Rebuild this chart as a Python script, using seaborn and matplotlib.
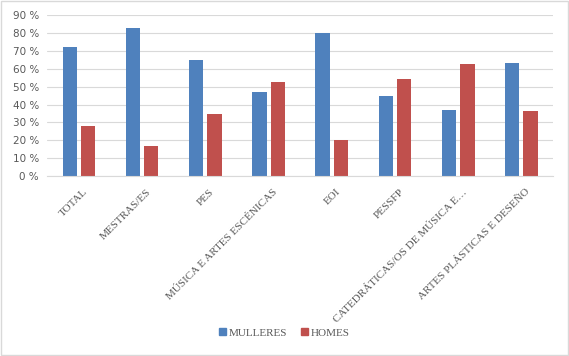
import numpy as np
import pandas as pd
import seaborn as sns
from matplotlib import pyplot as plt
from matplotlib.patches import Rectangle
from matplotlib.ticker import FuncFormatter
import matplotlib.transforms as mtransforms

# values (share of staff, 0-1)
categories = [
    "TOTAL",
    "MESTRAS/ES",
    "PES",
    "MÚSICA E ARTES ESCÉNICAS",
    "EOI",
    "PESSFP",
    "CATEDRÁTICAS/OS DE MÚSICA E…",
    "ARTES PLÁSTICAS E DESEÑO",
]
mulleres = [0.72, 0.83, 0.65, 0.47, 0.80, 0.45, 0.37, 0.635]
homes = [0.28, 0.17, 0.35, 0.525, 0.20, 0.545, 0.63, 0.365]
series = ["MULLERES", "HOMES"]
colors = ["#4F81BD", "#C0504D"]

df = pd.DataFrame({
    "cat": categories * 2,
    "val": mulleres + homes,
    "sex": [series[0]] * len(categories) + [series[1]] * len(categories),
})

sns.set_style("white")
plt.rcParams["font.family"] = ["DejaVu Sans"]

fig = plt.figure(figsize=(5.69, 3.56), dpi=100)
ax = fig.add_axes([0.083, 0.5056, 0.889, 0.4514])

sns.barplot(
    data=df, x="cat", y="val", hue="sex",
    palette=colors, width=0.58, gap=0.22,
    saturation=1, linewidth=0, ax=ax, legend=True,
)

ax.set_ylim(0, 0.9)
ax.set_yticks(np.arange(0, 0.91, 0.1))
ax.yaxis.set_major_formatter(FuncFormatter(lambda v, p: f"{int(round(v * 100))} %"))
ax.set_xlim(-0.5, len(categories) - 0.5)
ax.grid(axis="y", color="#D9D9D9", linewidth=0.8)
ax.set_axisbelow(True)
for s in ["top", "right", "left"]:
    ax.spines[s].set_visible(False)
ax.spines["bottom"].set_color("#D9D9D9")
ax.set_xlabel("")
ax.set_ylabel("")

ax.tick_params(axis="y", length=0, labelsize=7.5, labelcolor="#595959", pad=6)
ax.tick_params(axis="x", length=0, pad=8)
ax.set_xticks(range(len(categories)))
ax.set_xticklabels(
    categories, rotation=45, ha="right", va="top", rotation_mode="anchor",
    family=["Liberation Serif"], fontsize=8, color="#595959",
)
# nudge labels so their end sits just right of the group centre
offset = mtransforms.ScaledTranslation(3 / 72, 0, fig.dpi_scale_trans)
for lab in ax.get_xticklabels():
    lab.set_transform(lab.get_transform() + offset)

ax.legend_.remove()
handles = [Rectangle((0, 0), 1, 1, color=c) for c in colors]
leg = fig.legend(
    handles, series, loc="center", bbox_to_anchor=(0.5, 1 - 333 / 356),
    ncol=2, frameon=False, handlelength=0.6, handleheight=0.6,
    handletextpad=0.3, columnspacing=1.2,
    prop={"family": "Liberation Serif", "size": 8},
)
for t in leg.get_texts():
    t.set_color("#595959")

# light grey frame around the whole chart
fig.patches.append(Rectangle((0.002, 0.003), 0.996, 0.994, transform=fig.transFigure,
                             fill=False, edgecolor="#D9D9D9", linewidth=1))

fig.savefig("out.png", dpi=100)
